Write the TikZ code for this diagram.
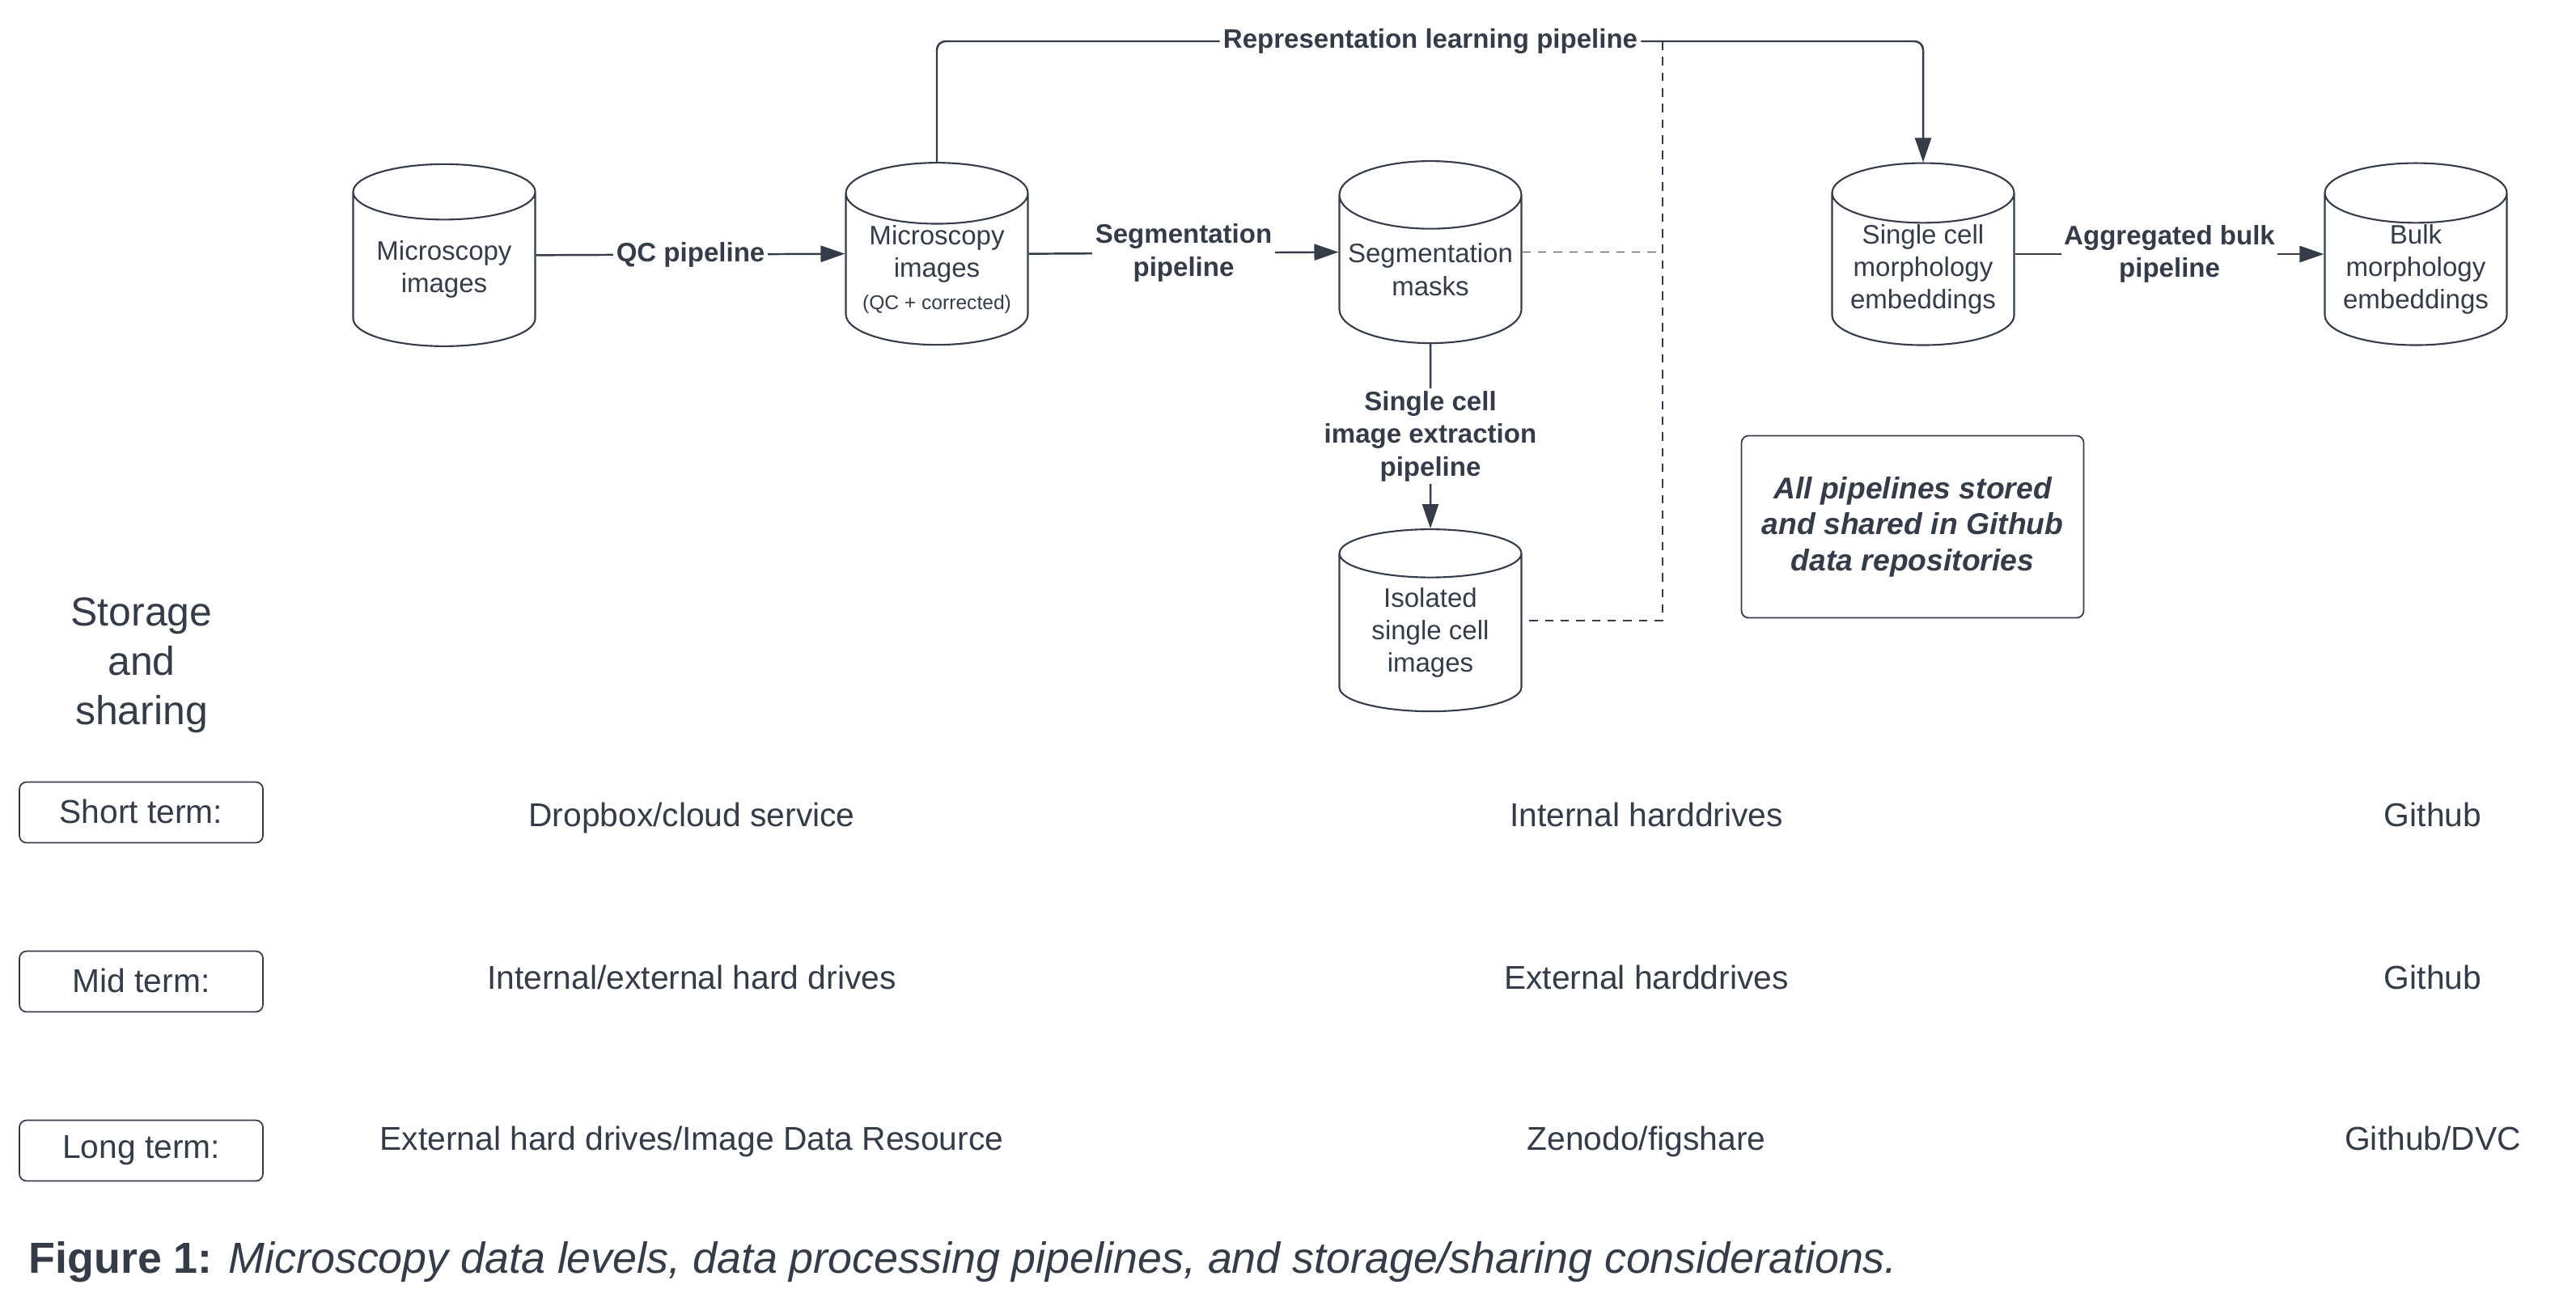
\documentclass[tikz,border=0pt]{standalone}
\usepackage{fontspec}
\setmainfont{Liberation Sans}
\usetikzlibrary{shapes.geometric,arrows.meta}
\definecolor{ink}{HTML}{353C47}

\begin{document}
\begin{tikzpicture}[
  store/.style={draw=ink, line width=0.6pt, cylinder, shape border rotate=90, aspect=0.41,
    minimum width=2.25cm, minimum height=2.25cm, inner sep=0pt, align=center, text=ink,
    font=\fontsize{9.4}{11.5}\selectfont},
  pipe/.style={fill=white, inner sep=1pt, align=center, text=ink,
    font=\fontsize{9.4}{11.5}\selectfont\bfseries},
  flow/.style={draw=ink, line width=0.7pt, -{Triangle[length=3mm,width=2mm]}},
  link/.style={draw=ink, line width=0.7pt},
  dashlink/.style={draw=ink, line width=0.5pt, dash pattern=on 3pt off 2.5pt},
  termbox/.style={draw=ink, line width=0.5pt, rounded corners=2.5pt, minimum width=3.01cm,
    minimum height=0.75cm, text=ink, font=\fontsize{11.6}{14}\selectfont},
  where/.style={text=ink, text height=8.5pt, text depth=2.5pt, font=\fontsize{11.6}{14}\selectfont}]
  \useasboundingbox (0,0) rectangle (31.84,-16.18);

  \node[store] (raw) at (5.49,-3.33) {Microscopy\\images};
  \node[store] (qc) at (11.58,-3.33) {Microscopy\\images\\{\fontsize{7}{9}\selectfont(QC + corrected)}};
  \node[store] (seg) at (17.68,-3.33) {Segmentation\\masks};
  \node[store] (iso) at (17.68,-7.82) {Isolated\\single cell\\images};
  \node[store] (sc) at (23.77,-3.33) {Single cell\\morphology\\embeddings};
  \node[store] (bulk) at (29.86,-3.33) {Bulk\\morphology\\embeddings};

  \coordinate (tap) at (20.55,-0.51);
  \draw[dashlink] (tap) |- (iso.shape center -| iso.east);
  \draw[dashlink] (seg.shape center -| seg.east) -- (seg.shape center -| tap);

  \node[pipe] (rep) at (17.68,-0.51) {Representation learning pipeline};
  \draw[link, rounded corners=3pt] (qc.north) |- (rep.west);
  \draw[flow, rounded corners=3pt] (rep.east) -| (sc.north);

  \draw[flow] (raw.shape center -| raw.east) -- node[pipe] {QC pipeline} (qc.shape center -| qc.west);
  \draw[flow] (qc.shape center -| qc.east) -- node[pipe] {Segmentation\\pipeline} (seg.shape center -| seg.west);
  \draw[flow] (seg) -- node[pipe] {Single cell\\image extraction\\pipeline} (iso);
  \draw[flow] (sc.shape center -| sc.east) -- node[pipe] {Aggregated bulk\\pipeline} (bulk.shape center -| bulk.west);

  \node[draw=ink, line width=0.5pt, rounded corners=2.5pt, minimum width=4.23cm, minimum height=2.25cm,
    align=center, text=ink, font=\fontsize{10.6}{12.7}\selectfont\bfseries\itshape] (note)
    at (23.64,-6.51) {All pipelines stored\\and shared in Github\\data repositories};

  \node[align=center, text=ink, font=\fontsize{14.2}{17.3}\selectfont] (share) at (1.75,-8.22)
    {Storage\\and\\sharing};

  \node[termbox] (short) at (1.745,-10.04) {\raisebox{1pt}{Short term:}};
  \node[termbox] (mid) at (1.745,-12.13) {\raisebox{1pt}{Mid term:}};
  \node[termbox] (long) at (1.745,-14.22) {\raisebox{1pt}{Long term:}};

  \node[where] (s1) at (8.55,-10.11) {Dropbox/cloud service};
  \node[where] (s2) at (20.35,-10.11) {Internal harddrives};
  \node[where] (s3) at (30.07,-10.11) {Github};
  \node[where] (m1) at (8.55,-12.12) {Internal/external hard drives};
  \node[where] (m2) at (20.35,-12.12) {External harddrives};
  \node[where] (m3) at (30.07,-12.12) {Github};
  \node[where] (l1) at (8.55,-14.11) {External hard drives/Image Data Resource};
  \node[where] (l2) at (20.35,-14.11) {Zenodo/figshare};
  \node[where] (l3) at (30.07,-14.11) {Github/DVC};

  \node[anchor=west, inner sep=0pt, text=ink, font=\fontsize{15.3}{18}\selectfont] (caption) at (0.35,-15.6)
    {\textbf{Figure 1:} \textit{Microscopy data levels, data processing pipelines, and storage/sharing considerations.}};
\end{tikzpicture}
\end{document}
